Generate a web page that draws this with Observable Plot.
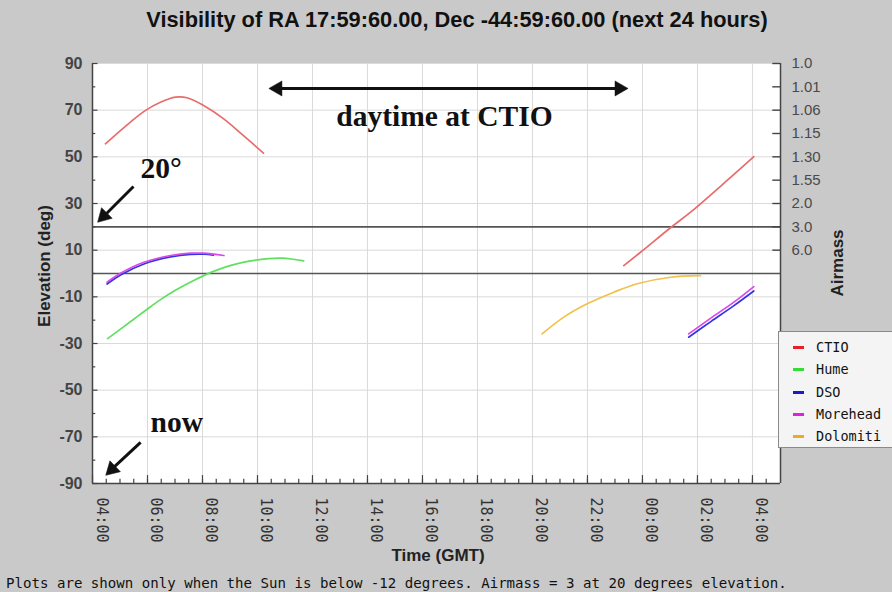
<!DOCTYPE html>
<html>
<head>
<meta charset="utf-8">
<script src="https://cdn.jsdelivr.net/npm/d3@7"></script>
<script src="https://cdn.jsdelivr.net/npm/@observablehq/plot@0.6"></script>
<style>
html,body{margin:0;padding:0;overflow:hidden;background:#c9c9c9;}
#wrap{position:relative;width:892px;height:592px;background:#c9c9c9;overflow:hidden;font-family:"Liberation Sans",Arial,sans-serif;}
#chart{position:absolute;left:0;top:0;}
#title{position:absolute;left:0;width:914px;top:7px;text-align:center;font-weight:bold;font-size:21.8px;color:#111;white-space:nowrap;}
.axlab{position:absolute;font-weight:bold;font-size:17px;color:#222;white-space:nowrap;}
#ylab{left:45px;top:266px;transform:translate(-50%,-50%) rotate(-90deg);}
#y2lab{left:838px;top:263px;transform:translate(-50%,-50%) rotate(-90deg);}
#xlab{left:438px;top:556px;transform:translate(-50%,-50%);}
#caption{position:absolute;left:6px;top:575px;font-family:"DejaVu Sans Mono",monospace;font-size:14.1px;color:#111;white-space:nowrap;}
#legend{position:absolute;left:778px;top:331px;width:130px;height:117px;background:#f4f4f4;border:1px solid #8a8a8a;box-sizing:border-box;}
.item{position:absolute;left:0;height:20px;font-family:"DejaVu Sans Mono",monospace;font-size:13.5px;color:#111;white-space:nowrap;}
.sw{position:absolute;left:14px;top:8px;width:11px;height:3px;}
.lt{position:absolute;left:37px;top:1px;}
</style>
</head>
<body>
<div id="wrap">
  <div id="chart"></div>
  <div id="title"></div>
  <div id="ylab" class="axlab"></div>
  <div id="y2lab" class="axlab"></div>
  <div id="xlab" class="axlab"></div>
  <div id="caption"></div>
  <div id="legend"></div>
</div>
<script>
// ---------- texts ----------
const titleText = "Visibility of RA 17:59:60.00, Dec -44:59:60.00 (next 24 hours)";
const yLabelText = "Elevation (deg)";
const y2LabelText = "Airmass";
const xLabelText = "Time (GMT)";
const captionText = "Plots are shown only when the Sun is below -12 degrees. Airmass = 3 at 20 degrees elevation.";

// ---------- series ----------
const stations = ["CTIO", "Hume", "DSO", "Morehead", "Dolomiti"];
const lineColors = ["#e86c6c", "#5fe05f", "#3434e6", "#d94ae8", "#f0c24c"];
const legendColors = ["#e8202a", "#33dd33", "#1a1acc", "#e020e0", "#f0a828"];

// hours counted from 00:00 of the first day (04:00 = 4, next-day 04:00 = 28)
const ctioHoursA = [4.47, 5.38, 5.93, 6.47, 7.02, 7.44, 8.04, 8.76, 9.49, 10.22];
const ctioElevA  = [55.6, 64.9, 69.9, 73.4, 75.6, 75.3, 72.0, 66.4, 59.1, 51.6];
const ctioHoursB = [23.32, 23.93, 25.02, 25.75, 27.08, 28.05];
const ctioElevB  = [3.4, 9.1, 19.6, 26.3, 39.9, 50.1];

const humeHours = [4.55, 5.5, 6.0, 6.5, 7.0, 7.68, 8.4, 9.0, 9.7, 10.4, 10.9, 11.3, 11.68];
const humeElev  = [-27.9, -19.6, -15.2, -11.0, -7.3, -3.0, 0.9, 3.4, 5.3, 6.4, 6.6, 6.1, 5.4];

const dsoHoursA = [4.53, 5.02, 5.87, 6.84, 7.56, 8.05, 8.4];
const dsoElevA  = [-4.5, -0.6, 4.1, 7.1, 8.2, 8.3, 7.9];
const dsoHoursB = [25.68, 26.5, 27.3, 28.05];
const dsoElevB  = [-27.3, -20.5, -14.0, -7.5];

const moreheadHoursA = [4.53, 5.02, 5.87, 6.84, 7.56, 8.05, 8.78];
const moreheadElevA  = [-3.7, 0.1, 4.8, 7.7, 8.7, 8.7, 7.7];
const moreheadHoursB = [25.68, 26.5, 27.3, 28.05];
const moreheadElevB  = [-25.9, -19.0, -12.5, -5.6];

const dolomitiHours = [20.35, 21.14, 21.99, 22.96, 23.81, 25.02, 26.11];
const dolomitiElev  = [-25.9, -18.7, -13.0, -8.0, -4.4, -1.6, -0.9];

const segments = [
  {station: "CTIO", hours: ctioHoursA, elev: ctioElevA},
  {station: "CTIO", hours: ctioHoursB, elev: ctioElevB},
  {station: "Hume", hours: humeHours, elev: humeElev},
  {station: "DSO", hours: dsoHoursA, elev: dsoElevA},
  {station: "DSO", hours: dsoHoursB, elev: dsoElevB},
  {station: "Morehead", hours: moreheadHoursA, elev: moreheadElevA},
  {station: "Morehead", hours: moreheadHoursB, elev: moreheadElevB},
  {station: "Dolomiti", hours: dolomitiHours, elev: dolomitiElev}
];
const rows = segments.flatMap((s, i) => s.hours.map((h, j) => ({seg: i, station: s.station, h, e: s.elev[j]})));

// ---------- axes ----------
const xDomain = [4, 29.02];
const yDomain = [-90, 90];
const hourTicks = [4, 6, 8, 10, 12, 14, 16, 18, 20, 22, 24, 26, 28];
const hourLabels = ["04:00", "06:00", "08:00", "10:00", "12:00", "14:00", "16:00", "18:00", "20:00", "22:00", "00:00", "02:00", "04:00"];
const halfHourTicks = d3.range(4.5, 29, 0.5);
const elevTicks = [90, 70, 50, 30, 10, -10, -30, -50, -70, -90];
const elevMinorTicks = [80, 60, 40, 20, 0, -20, -40, -60, -80];
const airmassElev = [90, 80, 70, 60, 50, 40, 30, 20, 10];
const airmassLabels = ["1.0", "1.01", "1.06", "1.15", "1.30", "1.55", "2.0", "3.0", "6.0"];
const refLines = [20, 0];

// ---------- annotations (data coordinates) ----------
const dayArrowLine = [{x1: 10.85, x2: 23.05, y: 79.3}];
const arrowHeads = [
  {h: 10.73, e: 79.3, rot: 270},
  {h: 23.16, e: 79.3, rot: 90},
  {h: 4.41, e: 24.6, rot: 225},
  {h: 4.71, e: -83.9, rot: 226}
];
const diagArrows = [
  {x1: 5.49, y1: 37.3, x2: 4.52, y2: 25.8},
  {x1: 5.75, y1: -72.4, x2: 4.81, y2: -82.7}
];
const centerNotes = [{h: 16.8, e: 67.4, text: "daytime at CTIO"}];
const leftNotes = [
  {h: 5.75, e: 45.0, text: "20°"},
  {h: 6.11, e: -63.9, text: "now"}
];

const axisColor = "#444";
const sans = "Liberation Sans, Arial, sans-serif";
const mono = "DejaVu Sans Mono, monospace";
const serif = "Liberation Serif, Times New Roman, serif";

const chart = Plot.plot({
  width: 892,
  height: 592,
  marginTop: 63,
  marginLeft: 92,
  marginRight: 112,
  marginBottom: 109,
  style: {background: "transparent", overflow: "visible"},
  x: {domain: xDomain, axis: null},
  y: {domain: yDomain, axis: null},
  color: {domain: stations, range: lineColors},
  marks: [
    Plot.frame({fill: "white", stroke: null}),
    // grid
    Plot.ruleX(hourTicks, {x: d => d, stroke: "#dadada", strokeWidth: 1}),
    Plot.ruleY(elevTicks, {y: d => d, stroke: "#dadada", strokeWidth: 1}),
    // reference lines
    Plot.ruleY(refLines, {y: d => d, stroke: "#555", strokeWidth: 1.6}),
    // data
    Plot.line(rows, {x: "h", y: "e", z: "seg", stroke: "station", strokeWidth: 1.7, curve: "catmull-rom"}),
    // axis lines
    Plot.ruleX(xDomain, {x: d => d, stroke: axisColor, strokeWidth: 1.5}),
    Plot.ruleY([yDomain[0]], {y: d => d, stroke: axisColor, strokeWidth: 1.5}),
    // bottom ticks (inward)
    Plot.ruleX(halfHourTicks, {x: d => d, y1: yDomain[0], y2: yDomain[0] + 1.8, stroke: axisColor, strokeWidth: 1.2}),
    Plot.ruleX(hourTicks, {x: d => d, y1: yDomain[0], y2: yDomain[0] + 3.4, stroke: axisColor, strokeWidth: 1.2}),
    // left ticks (inward)
    Plot.ruleY(elevMinorTicks, {y: d => d, x1: xDomain[0], x2: xDomain[0] + 0.12, stroke: axisColor, strokeWidth: 1.2}),
    Plot.ruleY(elevTicks, {y: d => d, x1: xDomain[0], x2: xDomain[0] + 0.2, stroke: axisColor, strokeWidth: 1.2}),
    // right ticks (inward)
    Plot.ruleY(airmassElev, {y: d => d, x1: xDomain[1] - 0.28, x2: xDomain[1], stroke: axisColor, strokeWidth: 1.4}),
    // left tick labels
    Plot.text(elevTicks, {y: d => d, frameAnchor: "left", dx: -10, textAnchor: "end", text: d => String(d),
      fontSize: 16, fontWeight: "bold", fill: "#444", fontFamily: sans}),
    // right tick labels
    Plot.text(airmassElev, {y: d => d, frameAnchor: "right", dx: 11, textAnchor: "start",
      text: (d, i) => airmassLabels[i], fontSize: 15, fill: "#4a4a4a", fontFamily: sans}),
    // bottom tick labels (rotated)
    Plot.text(hourTicks, {x: d => d, frameAnchor: "bottom", dy: 14, dx: 4, rotate: 90, textAnchor: "start",
      text: (d, i) => hourLabels[i], fontSize: 15, fill: "#333", fontFamily: mono}),
    // annotations
    Plot.ruleY(dayArrowLine, {y: "y", x1: "x1", x2: "x2", stroke: "#111", strokeWidth: 3}),
    Plot.link(diagArrows, {x1: "x1", y1: "y1", x2: "x2", y2: "y2", stroke: "#111", strokeWidth: 3}),
    Plot.dot(arrowHeads, {x: "h", y: "e", rotate: "rot", symbol: "triangle", r: 5.6, fill: "#111", stroke: "#111", strokeWidth: 0.5}),
    Plot.text(centerNotes, {x: "h", y: "e", text: "text", textAnchor: "middle", fontSize: 29.5, fontWeight: "bold",
      fontFamily: serif, fill: "#111"}),
    Plot.text(leftNotes, {x: "h", y: "e", text: "text", textAnchor: "start", fontSize: 29.5, fontWeight: "bold",
      fontFamily: serif, fill: "#111"})
  ]
});
document.getElementById("chart").appendChild(chart);

document.getElementById("title").textContent = titleText;
document.getElementById("ylab").textContent = yLabelText;
document.getElementById("y2lab").textContent = y2LabelText;
document.getElementById("xlab").textContent = xLabelText;
document.getElementById("caption").textContent = captionText;

const legend = document.getElementById("legend");
stations.forEach((s, i) => {
  const item = document.createElement("div");
  item.className = "item";
  item.style.top = (6 + i * 22.3) + "px";
  item.style.width = "120px";
  const sw = document.createElement("div");
  sw.className = "sw";
  sw.style.background = legendColors[i];
  const lt = document.createElement("div");
  lt.className = "lt";
  lt.textContent = s;
  item.appendChild(sw);
  item.appendChild(lt);
  legend.appendChild(item);
});
</script>
</body>
</html>
